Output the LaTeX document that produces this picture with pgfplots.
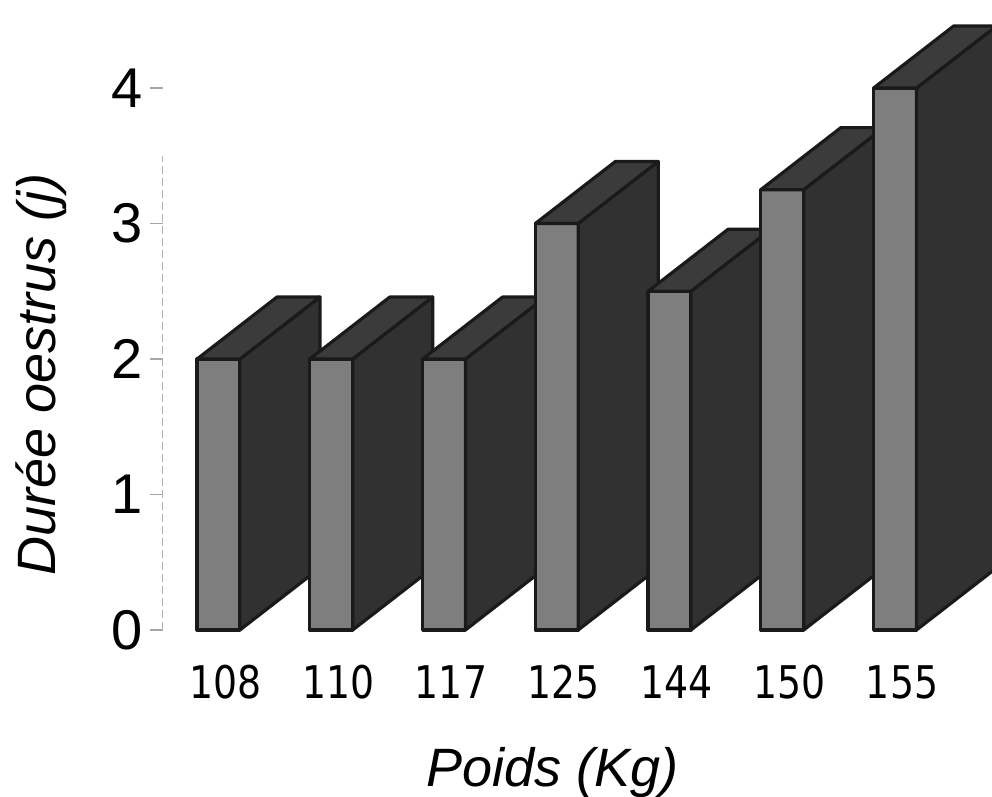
\documentclass[border=0pt]{standalone}
\usepackage{pgfplots}
\pgfplotsset{compat=1.18}
\usepackage{fontspec}
\setmainfont{Liberation Sans}
\newfontfamily\tickfont[FakeStretch=0.84]{DejaVu Sans}
\definecolor{frontc}{HTML}{7E7E7E}
\definecolor{sidec}{HTML}{313131}
\definecolor{topc}{HTML}{3B3B3B}
\definecolor{edgec}{HTML}{1A1A1A}

\newcommand\hw{0.19}
\newcommand\ddx{0.71}
\newcommand\ddy{0.458}
\newcommand{\threedbar}[2]{%
 \pgfmathsetmacro\xl{#1-\hw}%
 \pgfmathsetmacro\xr{#1+\hw}%
 \pgfmathsetmacro\xlb{#1-\hw+\ddx}%
 \pgfmathsetmacro\xrb{#1+\hw+\ddx}%
 \pgfmathsetmacro\yb{\ddy}%
 \pgfmathsetmacro\yt{#2+\ddy}%
 \edef\tmp{%
  \noexpand\addplot[fill=frontc, draw=edgec, line width=1.6pt, line join=round] coordinates {(\xl,0) (\xr,0) (\xr,#2) (\xl,#2)} --cycle;
  \noexpand\addplot[fill=sidec, draw=edgec, line width=1.6pt, line join=round] coordinates {(\xr,0) (\xrb,\yb) (\xrb,\yt) (\xr,#2)} --cycle;
  \noexpand\addplot[fill=topc, draw=edgec, line width=1.6pt, line join=round] coordinates {(\xl,#2) (\xlb,\yt) (\xrb,\yt) (\xr,#2)} --cycle;
 }\tmp}

\begin{document}
\begin{tikzpicture}
\useasboundingbox (-81.5pt,-83.5pt) rectangle (414.5pt,315pt);
\begin{axis}[
  at={(0pt,0pt)}, anchor=south west,
  scale only axis, width=414.5pt, height=315pt,
  xmin=-0.492, xmax=6.86, ymin=0, ymax=4.65,
  clip=false,
  axis y line*=left, axis x line*=bottom,
  x axis line style={draw=none},
  y axis line style={draw=none},
  ytick={0,1,2,3,4},
  xtick={0,1,2,3,4,5,6},
  xticklabels={108,110,117,125,144,150,155},
  tick align=outside,
  major tick length=6.5pt,
  major x tick style={draw=none},
  major y tick style={draw=gray!70, line width=0.6pt},
  /pgf/number format/assume math mode=true,
  yticklabel style={font=\fontsize{28}{30}\selectfont, anchor=east, inner sep=0pt, xshift=-3.5pt},
  xticklabel style={font=\tickfont\fontsize{22.5}{24}\selectfont, anchor=base, inner sep=0pt, xshift=3.5pt, yshift=-28pt},
  xlabel={Poids (Kg)},
  ylabel={Durée oestrus (j)},
  xlabel style={at={(axis description cs:0.470,-0.249)}, anchor=base, font=\itshape\fontsize{27}{30}\selectfont, inner sep=0pt},
  ylabel style={at={(axis description cs:-0.130,0.406)}, anchor=base, rotate=0, font=\itshape\fontsize{27}{30}\selectfont, inner sep=0pt},
]
\addplot[draw=gray!60, line width=0.5pt, dash pattern=on 4pt off 2pt] coordinates {(-0.492,0) (-0.492,3.5)};
\threedbar{0}{2.0}
\threedbar{1}{2.0}
\threedbar{2}{2.0}
\threedbar{3}{3.0}
\threedbar{4}{2.5}
\threedbar{5}{3.25}
\threedbar{6}{4.0}
\end{axis}
\end{tikzpicture}
\end{document}
